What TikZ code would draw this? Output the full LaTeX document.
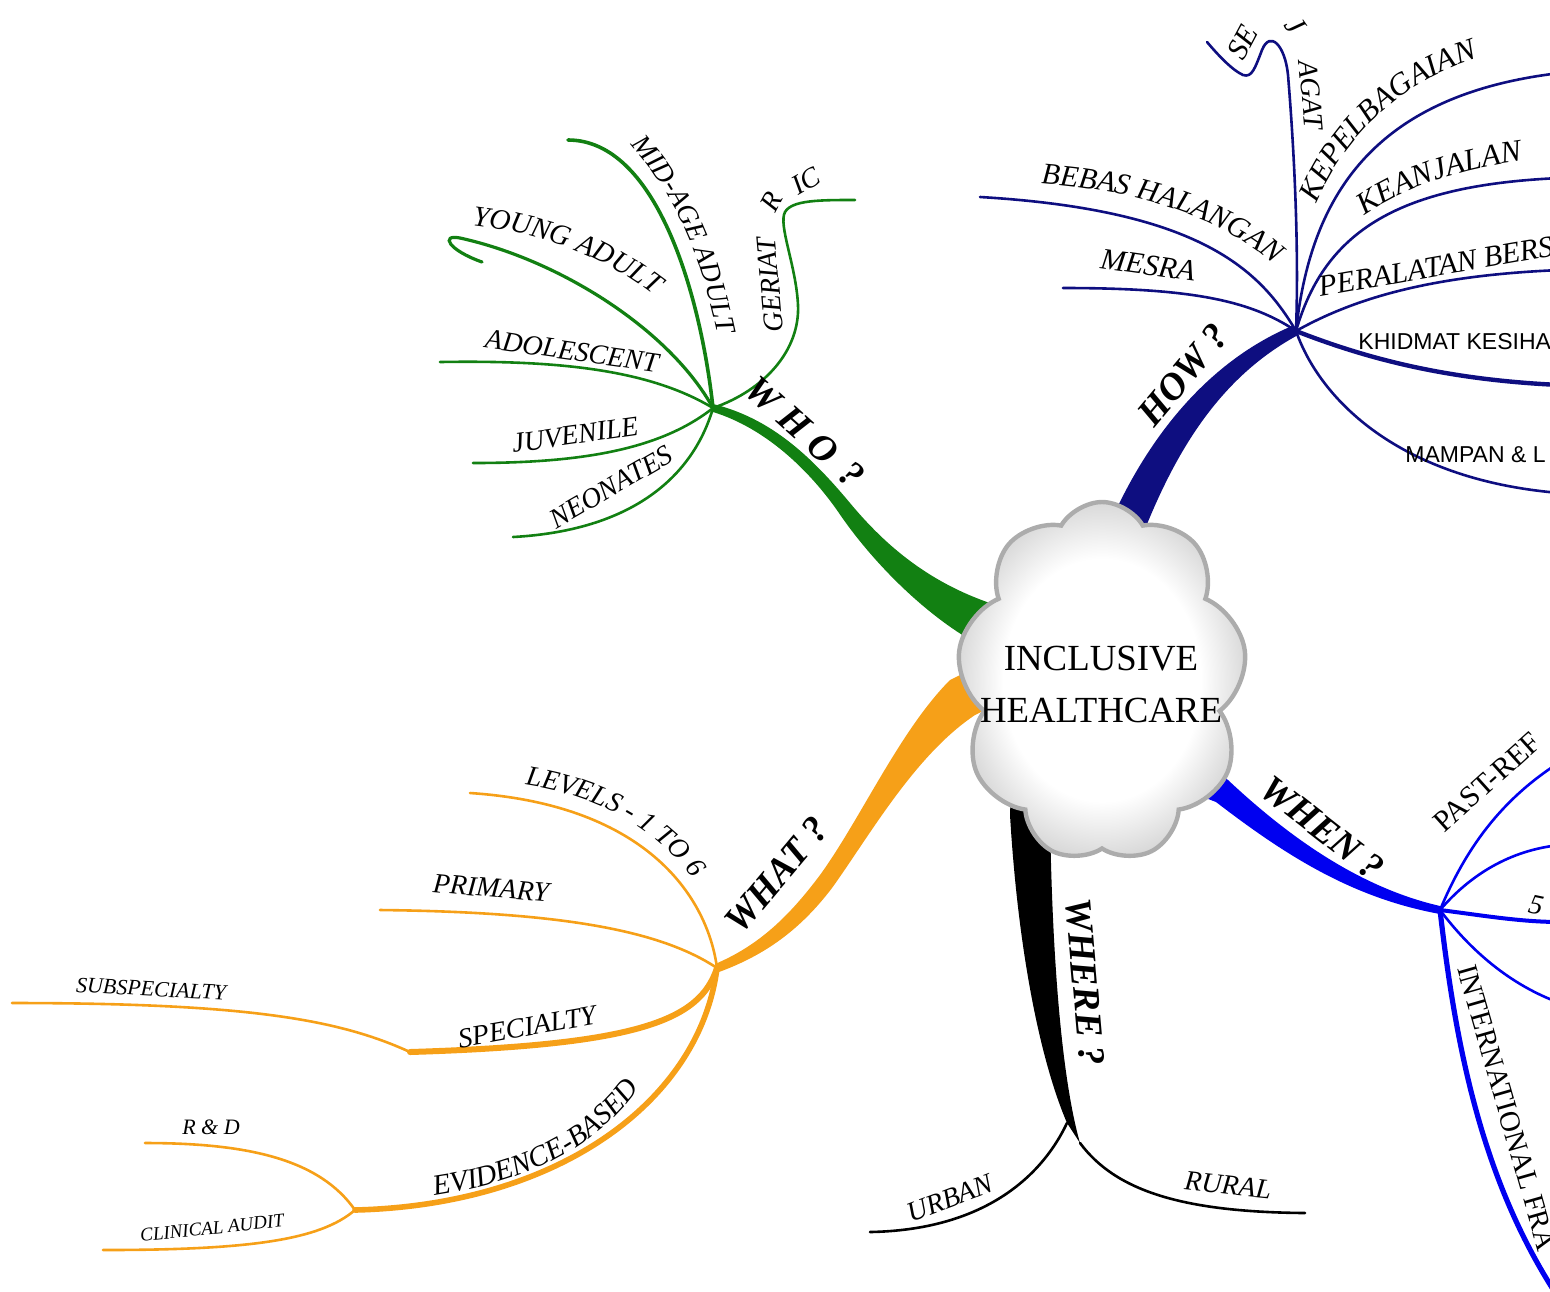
\documentclass[tikz,border=0pt]{standalone}
\usepackage{fontspec}
\setmainfont{Liberation Serif}
\newfontfamily\arialfont{Liberation Sans}
\usetikzlibrary{shapes.symbols,decorations.text}
\definecolor{whoc}{RGB}{18,128,18}
\definecolor{howc}{RGB}{14,14,128}
\definecolor{whenc}{RGB}{0,0,240}
\definecolor{whatc}{RGB}{246,160,24}
\pgfdeclareradialshading{cloudglow}{\pgfpoint{0bp}{0bp}}{color(0bp)=(white); color(17bp)=(white); color(25bp)=(gray!30); color(50bp)=(gray!30)}
\newcommand\lblf{\itshape\fontsize{14}{16}\selectfont}
\newcommand\lblfb{\itshape\fontsize{14.5}{16}\selectfont}
\newcommand\lblfc{\itshape\fontsize{15.5}{17}\selectfont}
\tikzset{
  twig/.style={line width=1.3pt,line cap=round},
  lbl/.style={font=\lblf,inner sep=0pt},
  uplbl/.style={font=\fontsize{14.5}{16}\selectfont,inner sep=0pt},
  qlbl/.style={font=\bfseries\itshape\fontsize{19}{19}\selectfont,inner sep=0pt},
  sanslbl/.style={font=\arialfont\fontsize{11.5}{13}\selectfont,inner sep=0pt,anchor=base west},
  curved/.style={decorate,decoration={text along path,text align=center,text={#1}}},
  cloudbox/.style={cloud,cloud puffs=9,cloud puff arc=120,cloud ignores aspect,
    minimum width=145pt,minimum height=180pt,shading=cloudglow,
    draw=gray!65,line width=2.2pt}
}
\begin{document}
\begin{tikzpicture}[x=0.5pt,y=-0.5pt]
\useasboundingbox (0,0) rectangle (1550,1291);
\clip (0,0) rectangle (1550,1291);
\coordinate (whohub) at (713,408);
\coordinate (howhub) at (1296,331);
\coordinate (whenhub) at (1440,910);
\coordinate (whathub) at (717,968);
\coordinate (spechub) at (410,1052);
\coordinate (evhub) at (355,1210);
\coordinate (whereL) at (1067,1123);
\coordinate (whereR) at (1080,1143);

\fill[whoc] (713,404) .. controls (770,418) and (810,455) .. (850,503) .. controls (885,545) and (930,585) .. (1002,607) -- (1040,625) -- (1020,660) -- (985,648) .. controls (930,620) and (875,565) .. (841,516) .. controls (810,470) and (765,428) .. (713,412) -- cycle;
\fill[howc] (1105,535) .. controls (1140,450) and (1200,365) .. (1292,326) -- (1298,335) .. controls (1215,380) and (1170,460) .. (1135,555) -- (1125,595) -- (1100,580) -- cycle;
\fill[whenc] (1228,780) .. controls (1292,840) and (1362,888) .. (1440,906) -- (1440,914) .. controls (1352,898) and (1285,855) .. (1216,802) -- (1185,790) -- (1200,760) -- cycle;
\fill[whatc] (990,660) -- (950,680) .. controls (900,730) and (860,820) .. (820,875) .. controls (790,915) and (760,945) .. (715,964) -- (719,972) .. controls (765,955) and (800,930) .. (832,888) .. controls (870,835) and (915,755) .. (975,715) -- (1005,700) -- cycle;
\fill[black] (1012,760) -- (1010,815) .. controls (1018,950) and (1040,1060) .. (whereL) -- (whereR) .. controls (1062,1080) and (1052,960) .. (1050,815) -- (1050,760) -- cycle;

\draw[whoc,twig,line width=1.8pt] (whohub) .. controls (700,290) and (655,140) .. (568,140);
\draw[whoc,twig] (whohub) .. controls (765,390) and (800,350) .. (798,305) .. controls (796,265) and (778,225) .. (785,212) .. controls (792,200) and (820,200) .. (855,200);
\draw[whoc,twig,line width=1.6pt] (whohub) .. controls (670,330) and (560,260) .. (460,238) .. controls (440,234) and (448,250) .. (482,262);
\draw[whoc,twig] (whohub) .. controls (650,370) and (560,360) .. (440,362);
\draw[whoc,twig] (whohub) .. controls (660,450) and (580,463) .. (473,463);
\draw[whoc,twig] (whohub) .. controls (695,470) and (640,530) .. (513,537);

\draw[howc,twig] (howhub) .. controls (1300,220) and (1290,100) .. (1288,75) .. controls (1285,45) and (1270,30) .. (1262,50) .. controls (1255,68) and (1252,78) .. (1243,75) .. controls (1232,70) and (1218,55) .. (1207,42);
\draw[howc,twig] (howhub) .. controls (1310,200) and (1370,95) .. (1560,73);
\draw[howc,twig] (howhub) .. controls (1325,230) and (1400,185) .. (1560,178);
\draw[howc,twig] (howhub) .. controls (1360,295) and (1440,275) .. (1560,270);
\draw[howc,twig,line width=2.2pt] (howhub) .. controls (1370,360) and (1450,380) .. (1560,385);
\draw[howc,twig] (howhub) .. controls (1320,400) and (1400,480) .. (1560,493);
\draw[howc,twig] (howhub) .. controls (1260,270) and (1200,210) .. (980,197);
\draw[howc,twig] (howhub) .. controls (1250,300) and (1190,288) .. (1063,288);

\draw[whenc,twig] (whenhub) .. controls (1465,850) and (1500,800) .. (1560,762);
\draw[whenc,twig] (whenhub) .. controls (1470,875) and (1510,850) .. (1560,845);
\draw[whenc,twig,line width=2pt] (whenhub) .. controls (1480,915) and (1520,922) .. (1560,922);
\draw[whenc,twig] (whenhub) .. controls (1470,950) and (1510,985) .. (1560,1003);
\draw[whenc,twig,line width=2.6pt] (whenhub) .. controls (1455,1040) and (1480,1180) .. (1560,1300);

\draw[whatc,twig] (whathub) .. controls (708,900) and (650,805) .. (470,793);
\draw[whatc,twig] (whathub) .. controls (660,930) and (560,912) .. (380,910);
\draw[whatc,twig,line width=3pt] (whathub) .. controls (700,1020) and (640,1045) .. (spechub);
\draw[whatc,twig] (spechub) .. controls (340,1020) and (250,1003) .. (12,1003);
\draw[whatc,twig,line width=2.8pt] (whathub) .. controls (700,1100) and (560,1205) .. (evhub);
\draw[whatc,twig] (evhub) .. controls (320,1160) and (250,1143) .. (145,1143);
\draw[whatc,twig] (evhub) .. controls (320,1240) and (250,1250) .. (103,1250);

\draw[twig] (whereL) .. controls (1040,1180) and (980,1230) .. (870,1232);
\draw[twig] (whereR) .. controls (1115,1190) and (1180,1212) .. (1305,1213);

\node[cloudbox] (hc) at (1102,682) {};
\node[font=\fontsize{18.4}{26}\selectfont,align=center,inner sep=0pt] (hctext) at (1101,684) {INCLUSIVE\\HEALTHCARE};

\node[qlbl,rotate=-42] (who) at (805,432) {W\hspace{5pt}H\hspace{5pt}O\hspace{3pt} ?};
\path[curved={|\lblf|MID-AGE ADULT}] (620,133) .. controls (665,180) and (700,240) .. (721,350);
\node[lbl,rotate=95] (geriat) at (770,285) {GERIAT};
\node[lbl,rotate=62] (geriatr) at (771,202) {R};
\node[lbl,rotate=30] (geriatic) at (806,181) {IC};
\path[curved={|\lblfb|YOUNG ADULT}] (462,224) .. controls (540,232) and (605,255) .. (662,302);
\node[lbl,rotate=-8] (adolescent) at (572,351) {ADOLESCENT};
\node[lbl,rotate=8] (juvenile) at (575,435) {JUVENILE};
\node[lbl,rotate=30] (neonates) at (611,487) {NEONATES};

\node[qlbl,rotate=50] (how) at (1183,375) {HOW ?};
\node[lbl,font=\itshape\fontsize{15}{17}\selectfont,rotate=62] (se) at (1243,42) {SE};
\node[lbl,font=\itshape\fontsize{15}{17}\selectfont,rotate=-55] (jagatj) at (1295,25) {J};
\node[lbl,rotate=-85] (jagat) at (1311,95) {AGAT};
\path[curved={|\lblfc|KEPELBAGAIAN}] (1312,215) .. controls (1340,140) and (1400,78) .. (1490,55);
\path[curved={|\lblfc|KEANJALAN}] (1358,220) .. controls (1400,188) and (1460,168) .. (1530,160);
\node[lbl,font=\itshape\fontsize{15}{17}\selectfont,rotate=10,anchor=base west] (peralatan) at (1320,297) {PERALATAN BERS};
\node[sanslbl] (khidmat) at (1358,349) {KHIDMAT KESIHA};
\node[sanslbl] (mampan) at (1405,462) {MAMPAN \& L};
\path[curved={|\itshape\fontsize{15}{17}\selectfont|BEBAS HALANGAN}] (1030,183) .. controls (1130,188) and (1225,215) .. (1282,272);
\node[lbl,font=\itshape\fontsize{15}{17}\selectfont,rotate=-8] (mesra) at (1148,265) {MESRA};

\node[qlbl,rotate=-38] (when) at (1322,828) {WHEN ?};
\node[uplbl,font=\fontsize{15}{17}\selectfont,rotate=42,anchor=base west] (pastref) at (1444,834) {PAST-REF};
\node[lbl,rotate=-12] (five) at (1536,905) {5};
\node[uplbl,rotate=-74] (intl) at (1507,1108) {INTERNATIONAL FRA};

\node[qlbl,rotate=50] (what) at (777,875) {WHAT ?};
\path[curved={|\lblf|LEVELS - 1 TO 6}] (512,783) .. controls (590,792) and (660,825) .. (700,890);
\node[lbl,rotate=-5] (primary) at (491,888) {PRIMARY};
\node[lbl,rotate=10] (specialty) at (527,1027) {SPECIALTY};
\node[lbl,font=\itshape\fontsize{11}{13}\selectfont,rotate=-3] (subspec) at (151,989) {SUBSPECIALTY};
\path[curved={|\lblfb|EVIDENCE-BASED}] (425,1197) .. controls (510,1185) and (590,1160) .. (645,1080);
\node[lbl,font=\itshape\fontsize{11}{13}\selectfont] (rnd) at (211,1127) {R \& D};
\node[lbl,font=\itshape\fontsize{9.5}{11}\selectfont,rotate=6] (audit) at (212,1228) {CLINICAL AUDIT};

\node[qlbl,rotate=-85] (where) at (1085,982) {WHERE ?};
\node[lbl,rotate=21] (urban) at (950,1198) {URBAN};
\node[lbl,rotate=-6] (rural) at (1228,1185) {RURAL};
\end{tikzpicture}
\end{document}
